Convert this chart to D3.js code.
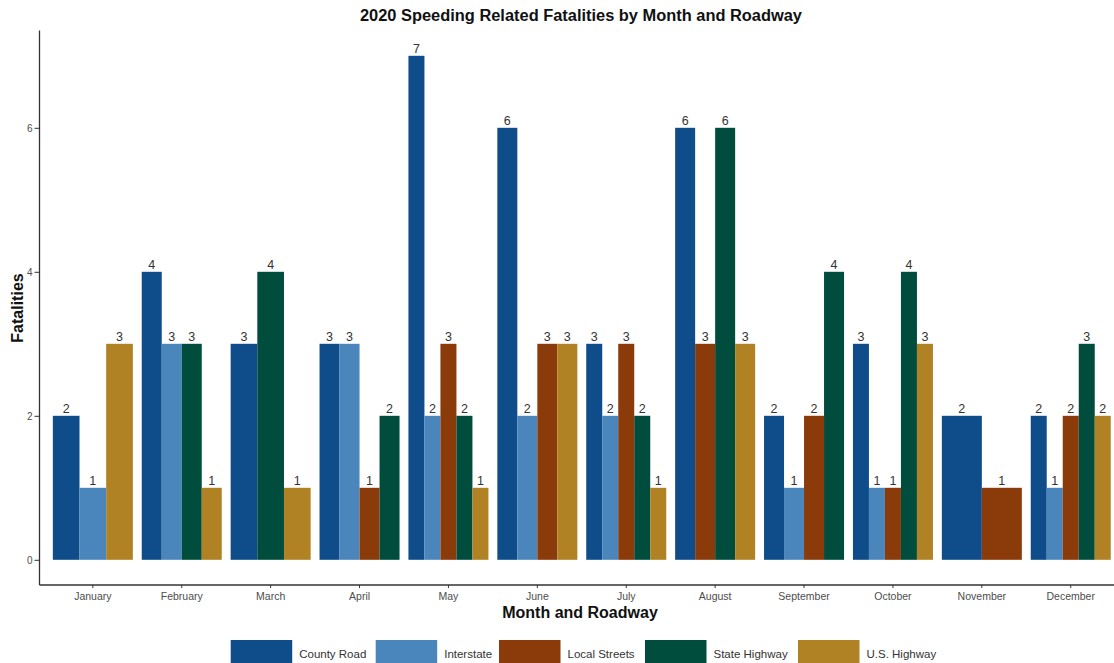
<!DOCTYPE html>
<html>
<head>
<meta charset="utf-8">
<script src="https://cdn.jsdelivr.net/npm/d3@7"></script>
<style>
  html, body { margin: 0; padding: 0; background: #fff; }
  svg { display: block; font-family: "Liberation Sans", Arial, sans-serif; }
</style>
</head>
<body>
<svg id="chart" width="1114" height="663"></svg>
<script>
// ---- Data ----
const months = ["January","February","March","April","May","June","July","August","September","October","November","December"];
const categories = ["County Road","Interstate","Local Streets","State Highway","U.S. Highway"];
const countyRoad   = [2, 4, 3, 3, 7, 6, 3, 6, 2, 3, 2, 2];
const interstate   = [1, 3, null, 3, 2, 2, 2, null, 1, 1, null, 1];
const localStreets = [null, null, null, 1, 3, 3, 3, 3, 2, 1, 1, 2];
const stateHighway = [null, 3, 4, 2, 2, null, 2, 6, 4, 4, null, 3];
const usHighway    = [3, 1, 1, null, 1, 3, 1, 3, null, 3, null, 2];
const yTicks = [0, 2, 4, 6];
const colors = ["#0f4d8a", "#4a86bb", "#8b3a0a", "#004d3d", "#b08223"];
const title = "2020 Speeding Related Fatalities by Month and Roadway";
const xTitle = "Month and Roadway";
const yTitle = "Fatalities";

const seriesValues = [countyRoad, interstate, localStreets, stateHighway, usHighway];

// ---- Layout ----
const svg = d3.select("#chart");
const W = 1114, H = 663;
const panel = { left: 39.5, top: 30.6, bottom: 585 };
const step = 88.9;

const x = d3.scaleBand()
  .domain(months)
  .range([panel.left, panel.left + 12.2 * step])
  .paddingInner(0.1)
  .paddingOuter(0.15);

const y = d3.scaleLinear()
  .domain([-0.35, 7.35])
  .range([panel.bottom, panel.top]);

const color = d3.scaleOrdinal().domain(categories).range(colors);

// ---- Bars ----
const barsG = svg.append("g");
const labelsG = svg.append("g");
months.forEach((m, i) => {
  const present = categories
    .map((c, k) => ({ cat: c, value: seriesValues[k][i] }))
    .filter(d => d.value !== null && d.value !== undefined);
  const sub = d3.scaleBand()
    .domain(present.map(d => d.cat))
    .range([x(m), x(m) + x.bandwidth()]);
  barsG.selectAll(null)
    .data(present)
    .enter().append("rect")
    .attr("x", d => sub(d.cat))
    .attr("width", sub.bandwidth())
    .attr("y", d => y(d.value))
    .attr("height", d => y(0) - y(d.value))
    .attr("fill", d => color(d.cat));
  labelsG.selectAll(null)
    .data(present)
    .enter().append("text")
    .attr("x", d => sub(d.cat) + sub.bandwidth() / 2)
    .attr("y", d => y(d.value) - 2.5)
    .attr("text-anchor", "middle")
    .attr("font-size", "12.5px")
    .attr("fill", "#333")
    .text(d => d.value);
});

// ---- Axes ----
const yAxis = d3.axisLeft(y).tickValues(yTicks).tickSize(5).tickPadding(2);
const yg = svg.append("g").attr("transform", `translate(${panel.left},0)`).call(yAxis);
yg.select(".domain").attr("d", `M0,${panel.top}V${panel.bottom}`).attr("stroke", "#333").attr("stroke-width", 1.3);
yg.selectAll(".tick line").attr("stroke", "#333");
yg.selectAll(".tick text").attr("font-size", "10px").attr("fill", "#4d4d4d").attr("font-family", "Liberation Sans, Arial, sans-serif");

const xAxis = d3.axisBottom(x).tickSize(3).tickPadding(5);
const xg = svg.append("g").attr("transform", `translate(0,${panel.bottom})`).call(xAxis);
xg.select(".domain").attr("d", `M${panel.left},0H${W + 20}`).attr("stroke", "#333").attr("stroke-width", 1.3);
xg.selectAll(".tick line").attr("stroke", "#333");
xg.selectAll(".tick text").attr("font-size", "10.5px").attr("fill", "#4d4d4d").attr("font-family", "Liberation Sans, Arial, sans-serif");

// ---- Titles ----
svg.append("text")
  .attr("x", 581).attr("y", 20.5)
  .attr("text-anchor", "middle")
  .attr("font-size", "16px").attr("font-weight", "bold").attr("fill", "#111")
  .attr("textLength", 442).attr("lengthAdjust", "spacingAndGlyphs")
  .text(title);

svg.append("text")
  .attr("x", 580).attr("y", 618)
  .attr("text-anchor", "middle")
  .attr("font-size", "16px").attr("font-weight", "bold").attr("fill", "#111")
  .text(xTitle);

svg.append("text")
  .attr("transform", `translate(23,308) rotate(-90)`)
  .attr("text-anchor", "middle")
  .attr("font-size", "16px").attr("font-weight", "bold").attr("fill", "#111")
  .text(yTitle);

// ---- Legend ----
const legendX = [230.7, 375.7, 499, 645, 798];
const legend = svg.append("g");
categories.forEach((c, k) => {
  legend.append("rect")
    .attr("x", legendX[k]).attr("y", 640)
    .attr("width", 61.5).attr("height", 30)
    .attr("fill", color(c));
  legend.append("text")
    .attr("x", legendX[k] + 68.5).attr("y", 658)
    .attr("font-size", "11.5px").attr("fill", "#333")
    .text(c);
});
</script>
</body>
</html>
